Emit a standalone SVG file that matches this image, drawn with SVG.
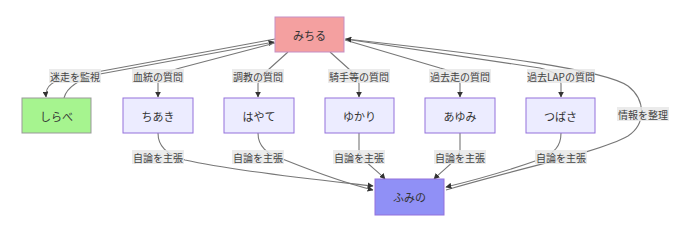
<svg xmlns="http://www.w3.org/2000/svg" width="694" height="232" viewBox="0 0 694 232">
<style>
  .node rect{stroke-width:1}
  .def rect{fill:#ececff;stroke:#9370db}
  .nt{font-family:"Noto Sans CJK JP","Liberation Sans",sans-serif;font-size:11px;fill:#333;text-anchor:middle;dominant-baseline:central}
  .edges path{fill:none;stroke:#777;stroke-width:1.1}
  .lbl rect{fill:#e8e8e8;opacity:0.85}
  .lt{font-family:"Noto Sans CJK JP","Liberation Sans",sans-serif;font-size:10px;fill:#444;text-anchor:middle;dominant-baseline:central}
</style>
<defs>
  <marker id="arr" viewBox="0 0 10 10" refX="9" refY="5" markerWidth="6" markerHeight="6" orient="auto" markerUnits="userSpaceOnUse">
    <path d="M0,0 L10,5 L0,10 z" fill="#333"/>
  </marker>
</defs>
<rect width="694" height="232" fill="#fff"/>
<g class="edges">
  <path d="M275,39 C200,53 120,68 75,76 C52,80 45,86 46,97" marker-end="url(#arr)"/>
  <path d="M64,98 C67,86 80,79 100,74 L274,42" marker-end="url(#arr)"/>
  <path d="M275,43 L180,68 C165,72 158,74 158,82 L158,97" marker-end="url(#arr)"/>
  <path d="M288,52 L268,70 C262,74 258,78 258,84 L258,97" marker-end="url(#arr)"/>
  <path d="M330,52 L350,70 C356,74 359,78 359,84 L359,97" marker-end="url(#arr)"/>
  <path d="M345,40 L440,68 C455,72 460,76 460,84 L460,97" marker-end="url(#arr)"/>
  <path d="M345,39 L540,68 C555,72 561,76 561,84 L561,97" marker-end="url(#arr)"/>
  <path d="M446,190 C520,168 600,152 628,136 C646,124 646,100 628,86 C605,70 500,56 346,39" marker-end="url(#arr)"/>
  <path d="M158,133 C158,146 166,154 185,160 C240,172 320,180 373,186" marker-end="url(#arr)"/>
  <path d="M258,133 C258,146 266,154 285,160 C310,170 345,183 373,190" marker-end="url(#arr)"/>
  <path d="M359,133 L359,150 C360,160 375,168 385,179" marker-end="url(#arr)"/>
  <path d="M460,133 L460,150 C458,160 445,168 434,179" marker-end="url(#arr)"/>
  <path d="M561,133 C561,146 555,153 538,160 C510,170 475,180 446,187" marker-end="url(#arr)"/>
</g>
<g class="lbl">
  <rect x="49" y="69" width="52" height="14"/><text class="lt" x="75" y="76">迷走を監視</text>
  <rect x="132" y="69" width="52" height="14"/><text class="lt" x="158" y="76">血統の質問</text>
  <rect x="232" y="69" width="52" height="14"/><text class="lt" x="258" y="76">調教の質問</text>
  <rect x="328" y="69" width="62" height="14"/><text class="lt" x="359" y="76">騎手等の質問</text>
  <rect x="429" y="69" width="62" height="14"/><text class="lt" x="460" y="76">過去走の質問</text>
  <rect x="527" y="69" width="68" height="14"/><text class="lt" x="561" y="76">過去LAPの質問</text>
  <rect x="617" y="107" width="52" height="14"/><text class="lt" x="643" y="114">情報を整理</text>
  <rect x="132" y="150" width="52" height="14"/><text class="lt" x="158" y="157">自論を主張</text>
  <rect x="232" y="150" width="52" height="14"/><text class="lt" x="258" y="157">自論を主張</text>
  <rect x="333" y="150" width="52" height="14"/><text class="lt" x="359" y="157">自論を主張</text>
  <rect x="434" y="150" width="52" height="14"/><text class="lt" x="460" y="157">自論を主張</text>
  <rect x="535" y="150" width="52" height="14"/><text class="lt" x="561" y="157">自論を主張</text>
</g>
<g id="michiru" class="node"><rect x="275" y="17" width="69" height="35" fill="#f4a0a0" stroke="#c58fc5"/><text class="nt" x="309.5" y="34.5">みちる</text></g>
<g id="shirabe" class="node"><rect x="22" y="98" width="69" height="35" fill="#a6f48f" stroke="#999"/><text class="nt" x="56.5" y="115.5">しらべ</text></g>
<g id="chiaki" class="node def"><rect x="123" y="98" width="70" height="35"/><text class="nt" x="158" y="115.5">ちあき</text></g>
<g id="hayate" class="node def"><rect x="224" y="98" width="70" height="35"/><text class="nt" x="259" y="115.5">はやて</text></g>
<g id="yukari" class="node def"><rect x="325" y="98" width="69" height="35"/><text class="nt" x="359.5" y="115.5">ゆかり</text></g>
<g id="ayumi" class="node def"><rect x="425" y="98" width="70" height="35"/><text class="nt" x="460" y="115.5">あゆみ</text></g>
<g id="tsubasa" class="node def"><rect x="526" y="98" width="69" height="35"/><text class="nt" x="560.5" y="115.5">つばさ</text></g>
<g id="fumino" class="node"><rect x="375" y="179" width="69" height="36" fill="#9090f6" stroke="#9370db"/><text class="nt" x="409.5" y="197">ふみの</text></g>
</svg>
